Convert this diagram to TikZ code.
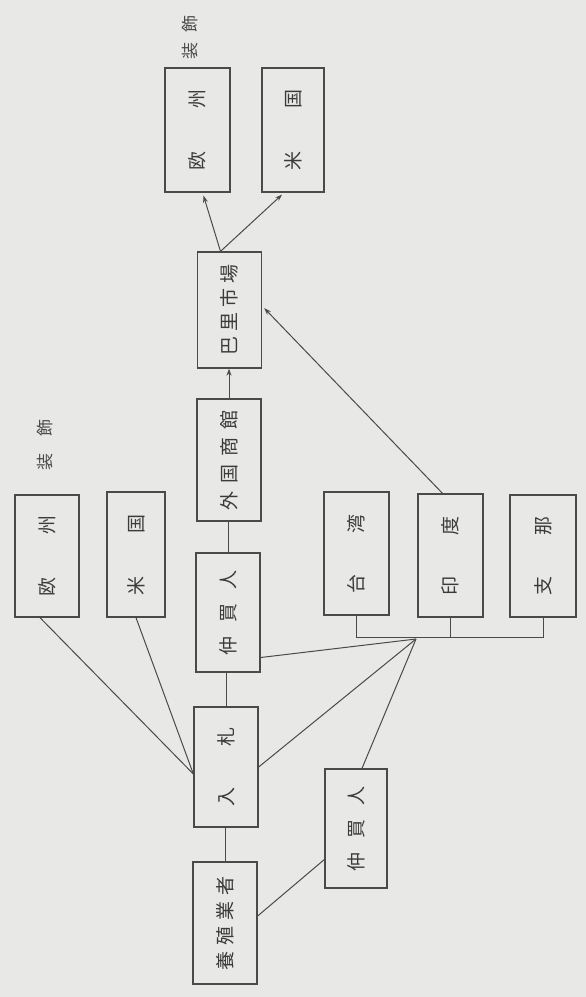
\documentclass[tikz,border=0pt]{standalone}
\usepackage{fontspec}
\newfontfamily\jp{Noto Sans CJK JP}
\usetikzlibrary{arrows.meta,calc}
\definecolor{paper}{HTML}{E8E8E6}
\definecolor{ink}{HTML}{4A4A4A}
\newcommand\vt[1]{\rotatebox{90}{#1}}
\begin{document}
\begin{tikzpicture}[x=1pt,y=-1pt,
  box/.style={draw=ink,line width=1.3pt,minimum width=64pt,minimum height=120pt,inner sep=0pt,
    font=\jp\fontsize{19}{19}\selectfont,text=ink!80!black},
  lbl/.style={inner sep=0pt,font=\jp\fontsize{17}{17}\selectfont,text=ink},
  conn/.style={draw=ink,line width=1pt},
  arr/.style={conn,-{Stealth[length=7pt,width=5pt]}}]
\fill[paper] (0,0) rectangle (586,997);
\useasboundingbox (0,0) rectangle (586,997);
% main chain
\node[box,minimum height=122pt] (yo) at (225,923) {\vt{養\hspace{6pt}殖\hspace{6pt}業\hspace{6pt}者}};
\node[box] (nyu) at (226,767) {\vt{入\hspace{41pt}札}};
\node[box,minimum height=119pt] (nk1) at (228,612.5) {\vt{仲\hspace{14pt}買\hspace{14pt}人}};
\node[box,minimum height=122pt] (gai) at (229,460) {\vt{外\hspace{8pt}国\hspace{8pt}商\hspace{8pt}館}};
\node[box,minimum height=116pt] (pari) at (229.5,310) {\vt{巴\hspace{5pt}里\hspace{5pt}市\hspace{5pt}場}};
% top destinations
\node[box,minimum width=65pt,minimum height=124pt] (eu2) at (197.5,130) {\vt{欧\hspace{43pt}州}};
\node[box,minimum width=62pt,minimum height=124pt] (us2) at (293,130) {\vt{米\hspace{43pt}国}};
\node[lbl] (lb2) at (190,37) {\vt{装\hspace{10pt}飾}};
% left buyers
\node[box,minimum height=122pt] (eu1) at (47,556) {\vt{欧\hspace{43pt}州}};
\node[box,minimum width=58pt,minimum height=125pt] (us1) at (136,554.5) {\vt{米\hspace{43pt}国}};
\node[lbl] (lb1) at (45,445) {\vt{装\hspace{17pt}飾}};
% right side
\node[box,minimum width=65pt,minimum height=123pt] (tw) at (356.5,553.5) {\vt{台\hspace{41pt}湾}};
\node[box,minimum width=65pt,minimum height=123pt] (ind) at (450.5,555.5) {\vt{印\hspace{41pt}度}};
\node[box,minimum width=66pt,minimum height=122pt] (chn) at (543,556) {\vt{支\hspace{41pt}那}};
\node[box,minimum width=62pt,minimum height=119pt] (nk2) at (356,828.5) {\vt{仲\hspace{14pt}買\hspace{14pt}人}};
% bracket
\coordinate (bT) at ($(tw.south)+(0,22)$);
\coordinate (br) at (416,639);
\draw[conn] (tw.south) -- (bT) -- (bT -| chn.south) -- (chn.south);
\draw[conn] (ind.south) -- (ind.south |- bT);
% chain connectors
\draw[conn] (yo.north) -- (yo.north |- nyu.south);
\draw[conn] (nyu.north) -- (nyu.north |- nk1.south);
\draw[conn] (nk1.north) -- (nk1.north |- gai.south);
\draw[arr] (gai.north) -- (gai.north |- pari.south);
\coordinate (pTop) at ($(pari.north)+(-9,0)$);
\draw[arr] (pTop) -- ($(eu2.south)+(6,3)$);
\draw[arr] (pTop) -- ($(us2.south)+(-11,2)$);
\draw[arr,shorten >=3pt] ($(ind.north)+(-8,0)$) -- ($(pari.east)+(0,-4)$);
% buyers to auction
\coordinate (nW) at ($(nyu.west)+(0,7)$);
\draw[conn] ($(eu1.south)+(-7,0)$) -- (nW);
\draw[conn] (us1.south) -- (nW);
% to bracket
\draw[conn] (nyu.east) -- (br);
\draw[conn] ($(nk1.east)+(0,45)$) -- (br);
\draw[conn] ($(nk2.north)+(6,0)$) -- (br);
\draw[conn] ($(yo.east)+(0,-7)$) -- ($(nk2.west)+(0,31)$);
\end{tikzpicture}
\end{document}
